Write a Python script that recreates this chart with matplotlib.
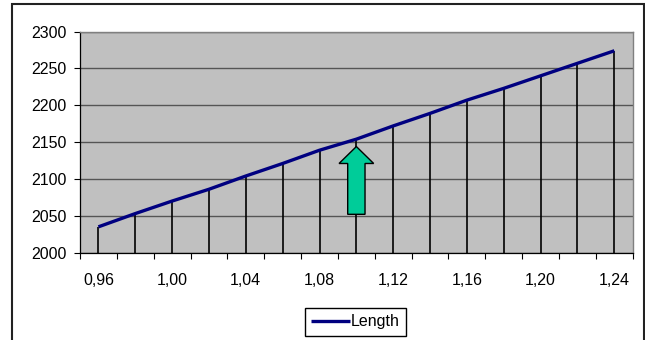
import numpy as np
import matplotlib
matplotlib.use("Agg")
import matplotlib.pyplot as plt
from matplotlib.patches import Rectangle, Polygon

plt.rcParams['font.family'] = ['Liberation Sans', 'DejaVu Sans']

# Ratio categories and measured length
ratios = ['0,96', '0,98', '1,00', '1,02', '1,04', '1,06', '1,08', '1,10',
          '1,12', '1,14', '1,16', '1,18', '1,20', '1,22', '1,24']
length = [2035, 2053, 2070, 2086, 2104, 2121, 2139, 2154,
          2172, 2189, 2207, 2223, 2240, 2257, 2274]

# Marker arrow pointing at the 1,10 category
arrow_cat = '1,10'
arrow_tip, arrow_neck, arrow_base = 2144, 2121, 2052

fig = plt.figure(figsize=(6.45, 3.40), dpi=100)
ax = fig.add_axes([0.124, 0.257, 0.857, 0.650])

x = np.arange(len(ratios))
ax.set_facecolor('#C0C0C0')
ax.set_xlim(-0.5, len(ratios) - 0.5)
ax.set_ylim(2000, 2300)
ax.set_yticks(np.arange(2000, 2301, 50))
ax.grid(axis='y', color='#555555', lw=1.0)
ax.set_axisbelow(True)

# drop lines from each point to the axis, then the series line
ax.vlines(x, 2000, length, colors='black', lw=1.2, zorder=2)
ax.plot(x, length, color='#000080', lw=2.4, solid_capstyle='butt',
        label='Length', zorder=3)

# green up arrow
xc = ratios.index(arrow_cat)
hw, sw = 0.47, 0.235
pts = [(xc, arrow_tip), (xc + hw, arrow_neck), (xc + sw, arrow_neck),
       (xc + sw, arrow_base), (xc - sw, arrow_base), (xc - sw, arrow_neck),
       (xc - hw, arrow_neck)]
ax.add_patch(Polygon(pts, closed=True, facecolor='#00CC99',
                     edgecolor='black', lw=1.0, zorder=4))

# category axis: ticks on boundaries, labels on every other category
ax.set_xticks(x[::2])
ax.set_xticklabels(ratios[::2])
ax.set_xticks(np.arange(-0.5, len(ratios)), minor=True)
ax.tick_params(axis='x', which='major', length=0, pad=14.5, labelsize=11.5)
ax.tick_params(axis='x', which='minor', length=4.5, width=0.8, direction='out')
ax.tick_params(axis='y', length=4.5, width=0.8, pad=5, labelsize=11.5)

for side in ['top', 'right']:
    ax.spines[side].set_color('#808080')
    ax.spines[side].set_linewidth(1.0)
for side in ['left', 'bottom']:
    ax.spines[side].set_color('black')
    ax.spines[side].set_linewidth(0.9)

fig.legend(loc='center', bbox_to_anchor=(0.551, 0.053), fancybox=False,
           edgecolor='black', framealpha=1, fontsize=11.5, handlelength=2.4,
           handletextpad=0.05, borderpad=0.4, borderaxespad=0)

# chart frame
fig.add_artist(Rectangle((12 / 645, -0.1), 632 / 645, 1.089,
                         transform=fig.transFigure, fill=False,
                         edgecolor='#222222', lw=1.5, clip_on=False))

fig.savefig('out.png', dpi=100)
